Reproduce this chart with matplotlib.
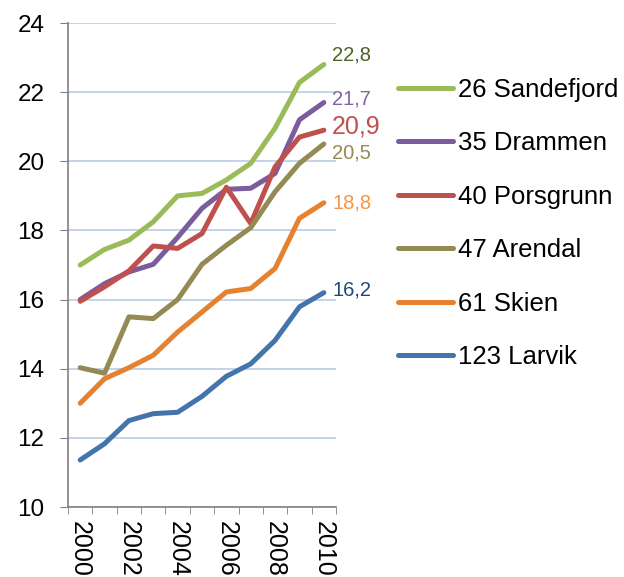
import matplotlib
matplotlib.use('Agg')
import matplotlib.pyplot as plt
import numpy as np

plt.rcParams['font.family']=['Liberation Sans','DejaVu Sans']

years=['2000','2001','2002','2003','2004','2005','2006','2007','2008','2009','2010']
names=['26 Sandefjord','35 Drammen','40 Porsgrunn','47 Arendal','61 Skien','123 Larvik']
sandefjord=[17.0,17.45,17.72,18.25,19.0,19.07,19.46,19.94,20.96,22.28,22.8]
drammen=[16.0,16.46,16.8,17.02,17.8,18.64,19.19,19.22,19.65,21.2,21.7]
porsgrunn=[15.95,16.37,16.83,17.55,17.48,17.91,19.25,18.2,19.84,20.7,20.9]
arendal=[14.03,13.87,15.5,15.45,16.0,17.02,17.57,18.08,19.12,19.94,20.5]
skien=[13.0,13.71,14.03,14.39,15.06,15.64,16.22,16.32,16.9,18.35,18.8]
larvik=[11.36,11.83,12.5,12.7,12.74,13.2,13.78,14.14,14.82,15.79,16.2]
end_labels=['22,8','21,7','20,9','20,5','18,8','16,2']

colors=['#9bbb59','#7b5c9c','#c0504d','#948a54','#e48232','#4474ac']
label_colors=['#4f6228','#8064a2','#c0504d','#948a54','#f79646','#1f497d']
label_offsets=[9,4,4,-9,0,3]   # px, shift of end labels
label_sizes=[14.5,14.5,18,14.5,14.5,14.5]

series=[sandefjord,drammen,porsgrunn,arendal,skien,larvik]

fig=plt.figure(figsize=(6.24,5.77),dpi=100)
ax=fig.add_axes([68/624.,1-507/577.,268/624.,484/577.])
x=np.arange(len(years))

for crind in range(len(series)):
    ax.plot(x,series[crind],color=colors[crind],lw=3.6,solid_capstyle='round',
            solid_joinstyle='round',label=names[crind])
    ax.annotate(end_labels[crind],xy=(x[-1],series[crind][-1]),
                xytext=(6.0,label_offsets[crind]*0.72),textcoords='offset points',
                ha='left',va='center',color=label_colors[crind],
                fontsize=label_sizes[crind],annotation_clip=False)

ax.set_xlim(-0.5,10.5)
ax.set_ylim(10,24)
ax.set_yticks(np.arange(10,25,2))
ax.grid(axis='y',color='#b9cde5',lw=1.2)
ax.set_axisbelow(True)

ax.set_xticks(x[::2])
ax.set_xticklabels(years[::2],rotation=-90,fontsize=18)
ax.set_xticks(np.arange(-0.5,11,1),minor=True)
ax.tick_params(axis='x',which='major',length=0,pad=10)
ax.tick_params(axis='x',which='minor',length=5,color='#808080',direction='out')
ax.tick_params(axis='y',length=6,color='#808080',direction='out',labelsize=17.5,pad=11)

for s in ['top','right']:
    ax.spines[s].set_visible(False)
for s in ['left','bottom']:
    ax.spines[s].set_color('#808080')
    ax.spines[s].set_linewidth(1.2)

fig.legend(loc='center left',bbox_to_anchor=(398/624.,1-223.5/577.),frameon=False,
           fontsize=18.5,handlelength=2.15,handletextpad=0.2,labelspacing=1.15,
           borderpad=0,borderaxespad=0)

plt.savefig('out.png',dpi=100)
